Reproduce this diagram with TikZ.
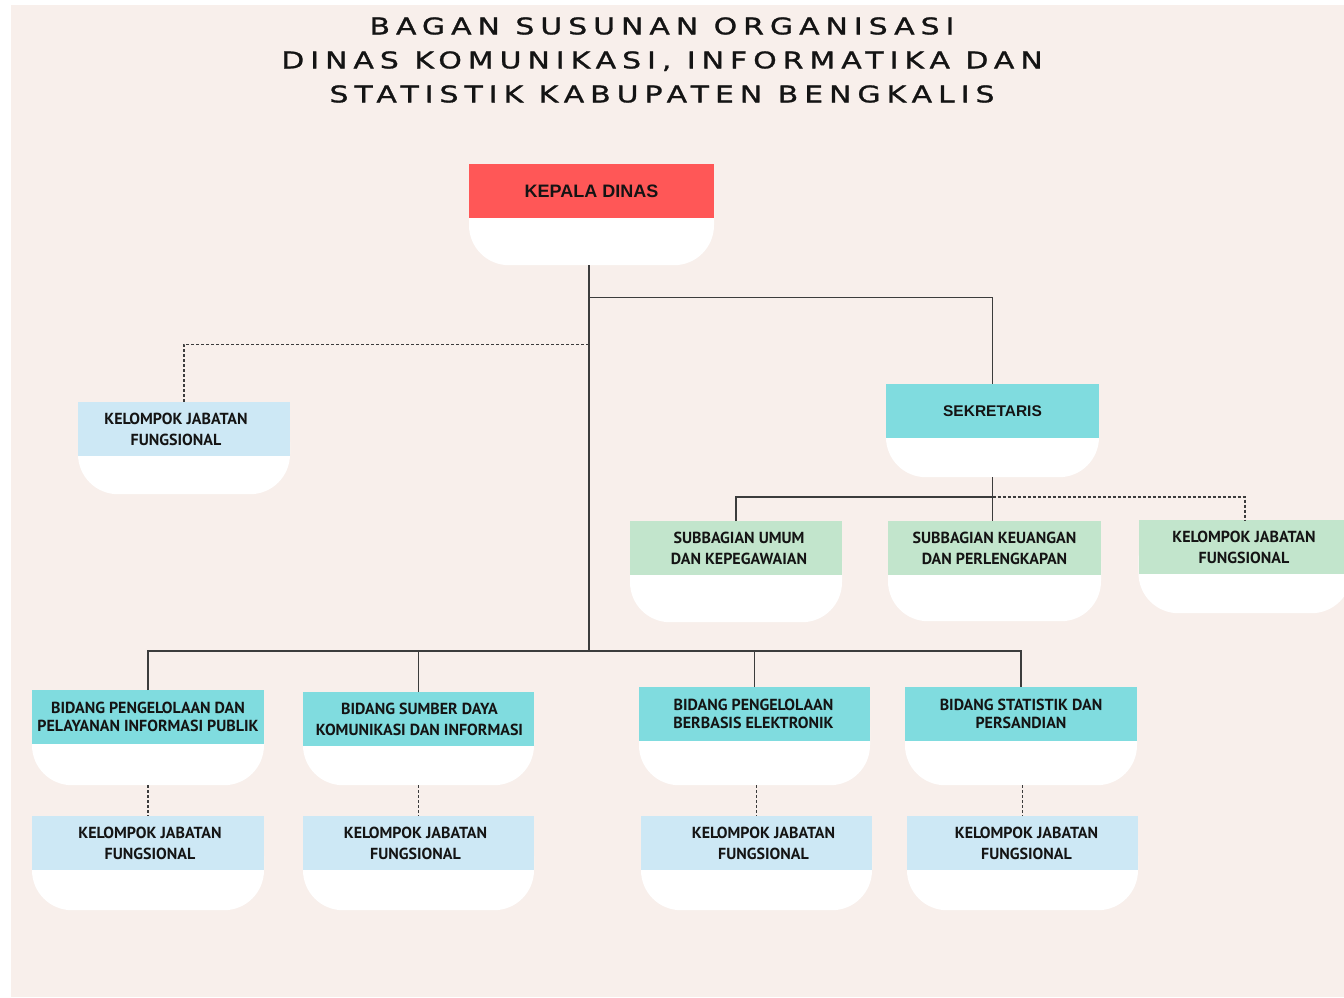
\documentclass[tikz,border=0pt]{standalone}
\usepackage{fontspec}
\setmainfont{Liberation Sans}
\newfontfamily\titlefont[LetterSpace=26,FakeStretch=1.3,FakeBold=1.2]{DejaVu Sans}
\newfontfamily\ptfont{PT Sans}
\usetikzlibrary{calc}
\definecolor{bgpink}{HTML}{F8EFEB}
\definecolor{kred}{HTML}{FF5757}
\definecolor{kteal}{HTML}{80DCDF}
\definecolor{lblue}{HTML}{CDE8F5}
\definecolor{lgreen}{HTML}{C2E5CC}
\definecolor{textdark}{HTML}{141414}
\definecolor{linegray}{HTML}{3C3C3C}
\newcommand{\kfont}{\bfseries\fontsize{18}{22}\selectfont}
\newcommand{\sfont}{\bfseries\fontsize{15.5}{19}\selectfont}
\newcommand{\cfonta}{\ptfont\bfseries\fontsize{16}{18}\selectfont}
\newcommand{\cfontb}{\ptfont\bfseries\fontsize{16}{20.5}\selectfont}
\tikzset{
  wbox/.style={fill=white, rounded corners=40pt, inner sep=0pt, draw=none},
  hbox/.style={inner sep=0pt, minimum height=54, draw=none},
  btext/.style={align=center, text=textdark, inner sep=0pt},
  conn/.style={draw=linegray, line width=1.5pt},
  dconn/.style={draw=linegray, line width=1.2pt, dash pattern=on 3pt off 2pt},
  ttl/.style={align=center, text=textdark, inner sep=0pt,
    font=\titlefont\fontsize{23}{34}\selectfont}
}
% name, cx, top, W, H, colour, text, text xshift, font
\newcommand{\obox}[9]{%
  \node[wbox, minimum width=#4, minimum height=#5, anchor=north] (#1) at (#2,#3) {};
  \node[hbox, fill=#6, minimum width=#4, anchor=north] (#1h) at (#1.north) {};
  \node[btext, font=#9] (#1t) at ([xshift=#8]#1h.center) {#7};
}
\begin{document}
\begin{tikzpicture}[x=1pt,y=-1pt]
\useasboundingbox (0,0) rectangle (1344,997);
\fill[bgpink] (11,5) rectangle (1344,997);
\node[ttl] (title) at (662,60) {BAGAN SUSUNAN ORGANISASI\\DINAS KOMUNIKASI, INFORMATIKA DAN\\STATISTIK KABUPATEN BENGKALIS};

\obox{kd}{591.5}{164}{245}{101}{kred}{KEPALA DINAS}{0pt}{\kfont}
\obox{kjfa}{184}{402}{212}{92}{lblue}{KELOMPOK JABATAN\\FUNGSIONAL}{-8pt}{\cfontb}
\obox{sek}{992.5}{384}{213}{93}{kteal}{SEKRETARIS}{0pt}{\sfont}
\obox{suba}{736}{521}{212}{101}{lgreen}{SUBBAGIAN UMUM\\DAN KEPEGAWAIAN}{3pt}{\cfontb}
\obox{subb}{994.5}{521}{213}{100}{lgreen}{SUBBAGIAN KEUANGAN\\DAN PERLENGKAPAN}{0pt}{\cfontb}
\obox{kjfb}{1245}{520}{213}{93}{lgreen}{KELOMPOK JABATAN\\FUNGSIONAL}{-1pt}{\cfontb}
\obox{bda}{148}{690}{232}{95}{kteal}{BIDANG PENGELOLAAN DAN\\PELAYANAN INFORMASI PUBLIK}{0pt}{\cfonta}
\obox{bdb}{418.5}{692}{231}{93}{kteal}{BIDANG SUMBER DAYA\\KOMUNIKASI DAN INFORMASI}{1pt}{\cfontb}
\obox{bdc}{754.5}{687}{231}{98}{kteal}{BIDANG PENGELOLAAN\\BERBASIS ELEKTRONIK}{-1pt}{\cfonta}
\obox{bdd}{1021}{687}{232}{98}{kteal}{BIDANG STATISTIK DAN\\PERSANDIAN}{0pt}{\cfonta}
\obox{kja}{148}{816}{232}{94}{lblue}{KELOMPOK JABATAN\\FUNGSIONAL}{2pt}{\cfontb}
\obox{kjb}{418.5}{816}{231}{94}{lblue}{KELOMPOK JABATAN\\FUNGSIONAL}{-3pt}{\cfontb}
\obox{kjc}{756.5}{816}{231}{94}{lblue}{KELOMPOK JABATAN\\FUNGSIONAL}{7pt}{\cfontb}
\obox{kjd}{1022.5}{816}{231}{94}{lblue}{KELOMPOK JABATAN\\FUNGSIONAL}{4pt}{\cfontb}

\coordinate (bus) at (589,651);
\coordinate (sbus) at (993,497);
\draw[conn] ([xshift=-2.5pt]kd.south) -- ([xshift=-2.5pt]kd.south |- bus);
\draw[conn] ($(kd.south)+(-2.5,32)$) -| (sek.north);
\draw[dconn] ($(kd.south)+(-2.5,79)$) -| (kjfa.north);
\draw[conn] (bda.north) |- (bus) -| (bdd.north);
\draw[conn] (bdb.north) -- (bdb.north |- bus);
\draw[conn] (bdc.north) -- (bdc.north |- bus);
\draw[conn] (sek.south) -- (sek.south |- subb.north);
\draw[conn] (suba.north) |- (sek.south |- sbus);
\draw[dconn] (sek.south |- sbus) -| (kjfb.north);
\draw[dconn] (kja.north |- bda.south) -- (kja.north);
\draw[dconn] (kjb.north |- bdb.south) -- (kjb.north);
\draw[dconn] (kjc.north |- bdc.south) -- (kjc.north);
\draw[dconn] (kjd.north |- bdd.south) -- (kjd.north);
\end{tikzpicture}
\end{document}
